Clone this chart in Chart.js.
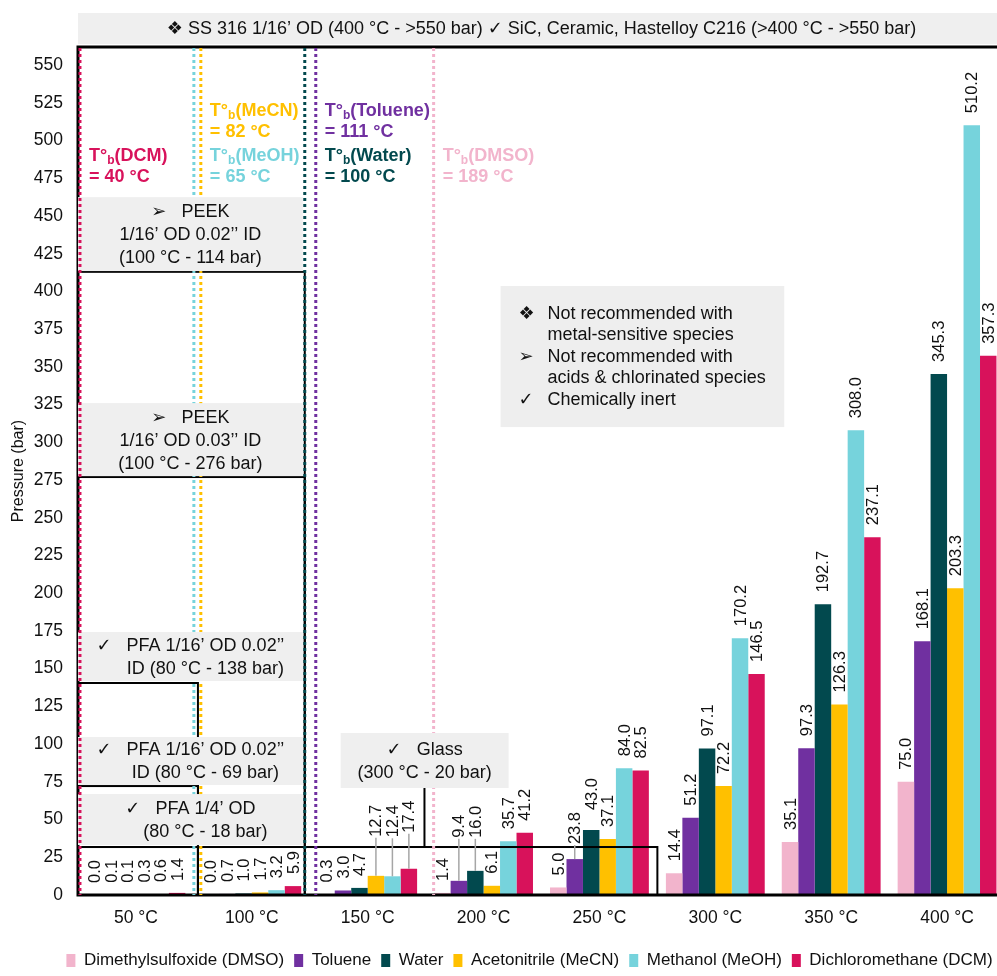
<!DOCTYPE html>
<html>
<head>
<meta charset="utf-8">
<script src="https://cdn.jsdelivr.net/npm/chart.js@4.4.1/dist/chart.umd.min.js"></script>
<style>
  html, body { margin: 0; padding: 0; background: #fff; overflow: hidden; }
  #wrap { width: 1070px; height: 976px; }
</style>
</head>
<body>
<div id="wrap"><canvas id="chart" width="1070" height="976"></canvas></div>
<script>
// Data
const temperatures = ['50 °C', '100 °C', '150 °C', '200 °C', '250 °C', '300 °C', '350 °C', '400 °C'];
const dmso    = [0.0, 0.0, 0.3, 1.4, 5.0, 14.4, 35.1, 75.0];
const toluene = [0.1, 0.7, 3.0, 9.4, 23.8, 51.2, 97.3, 168.1];
const water   = [0.1, 1.0, 4.7, 16.0, 43.0, 97.1, 192.7, 345.3];
const mecn    = [0.3, 1.7, 12.7, 6.1, 37.1, 72.2, 126.3, 203.3];
const meoh    = [0.6, 3.2, 12.4, 35.7, 84.0, 170.2, 308.0, 510.2];
const dcm     = [1.4, 5.9, 17.4, 41.2, 82.5, 146.5, 237.1, 357.3];
const seriesNames = ['Dimethylsulfoxide (DMSO)', 'Toluene', 'Water', 'Acetonitrile (MeCN)', 'Methanol (MeOH)', 'Dichloromethane (DCM)'];
const seriesValues = [dmso, toluene, water, mecn, meoh, dcm];
const seriesColors = ['#F2B4CC', '#7030A0', '#02494E', '#FFC000', '#76D3DC', '#D8125B'];
const yTicks = [0, 25, 50, 75, 100, 125, 150, 175, 200, 225, 250, 275, 300, 325, 350, 375, 400, 425, 450, 475, 500, 525, 550];

// Boiling points
const bpSolvents = ['DCM', 'MeOH', 'MeCN', 'Water', 'Toluene', 'DMSO'];
const bpTemps = [40, 65, 82, 100, 111, 189];

const FONT = "'Liberation Sans', Arial, 'DejaVu Sans', sans-serif";

// Placement of the annotations (category units on x, bar on y)
const bpLines = {
    DCM:     { u: -0.483, color: '#D8125B', onTop: true },
    MeOH:    { u: 0.50,  color: '#76D3DC' },
    MeCN:    { u: 0.56,  color: '#FFC000' },
    Water:   { u: 1.457, color: '#02494E' },
    Toluene: { u: 1.552, color: '#7030A0' },
    DMSO:    { u: 2.569, color: '#F2B4CC' }
};
const bpText = {
    DCM:     { u: -0.405, v: 489.7 },
    MeCN:    { u: 0.638,  v: 519.5 },
    MeOH:    { u: 0.638,  v: 489.7 },
    Toluene: { u: 1.629,  v: 519.5 },
    Water:   { u: 1.629,  v: 489.7 },
    DMSO:    { u: 2.647,  v: 489.7 }
};

// Limit rectangles (temperature edge, pressure top)
const limitRects = [
    { x1: 7.5, top: 562, width: 3 },
    { x1: 1.457, top: 413 },
    { x1: 1.457, top: 277 },
    { x1: 0.535, top: 140.5 },
    { x1: 0.535, top: 72.2 },
    { x1: 0.535, top: 31.8 },
    { x1: 4.5, top: 31.8 }
];

const materialBoxes = [
    { x0: -0.5, x1: 7.5, top: 584.5, bottom: 564, lines: ['❖ SS 316 1/16’ OD (400 °C - >550 bar) ✓ SiC, Ceramic, Hastelloy C216 (>400 °C - >550 bar)'] },
    { x0: -0.5, x1: 1.44, top: 462.5, bottom: 413.5, lines: ['➢   PEEK', '1/16’ OD 0.02’’ ID', '(100 °C - 114 bar)'] },
    { x0: -0.5, x1: 1.44, top: 326, bottom: 277.6, lines: ['➢   PEEK', '1/16’ OD 0.03’’ ID', '(100 °C - 276 bar)'] },
    { x0: -0.5, x1: 1.44, top: 174.3, bottom: 141.8, lines: ['✓   PFA 1/16’ OD 0.02’’', 'ID (80 °C - 138 bar)'], shift: [0, 15] },
    { x0: -0.5, x1: 1.44, top: 104.7, bottom: 72.9, lines: ['✓   PFA 1/16’ OD 0.02’’', 'ID (80 °C - 69 bar)'], shift: [0, 15] },
    { x0: -0.5, x1: 1.44, top: 66.9, bottom: 33.1, lines: ['✓   PFA 1/4’ OD', '(80 °C - 18 bar)'], shift: [0, 15] },
    { x0: 1.767, x1: 3.216, top: 107.4, bottom: 70.9, lines: ['✓   Glass', '(300 °C - 20 bar)'] }
];

const notes = [
    ['❖', 'Not recommended with'],
    ['', 'metal-sensitive species'],
    ['➢', 'Not recommended with'],
    ['', 'acids & chlorinated species'],
    ['✓', 'Chemically inert']
];

// data labels moved up by hand in the original (px lift, leader line)
const labelLift = {
    '2-3': [27, true], '2-4': [27, true], '2-5': [24, true],
    '3-1': [31, true], '3-2': [21, true],
    '4-1': [3, true], '4-2': [8, false]
};

const overlay = {
    id: 'overlay',
    afterLayout(chart) {
        // legend sits a bit right of the canvas centre and lower in the original
        chart.legend.left += 27;
        chart.legend.right += 27;
        chart.legend.top += 7;
        chart.legend.bottom += 7;
    },
    afterDatasetsDraw(chart) {
        const { ctx, scales: { x, y } } = chart;
        const step = x.getPixelForValue(1) - x.getPixelForValue(0);
        const px = u => x.getPixelForValue(0) + u * step;
        const py = v => y.getPixelForValue(v);
        const y0 = py(0);
        ctx.save();

        // black limit rectangles
        ctx.strokeStyle = '#000';
        limitRects.forEach(r => {
            ctx.lineWidth = r.width || 2;
            ctx.strokeRect(px(-0.5), py(r.top), px(r.x1) - px(-0.5), y0 - py(r.top));
        });

        // boiling point dotted lines
        const dotted = key => {
            const l = bpLines[key];
            ctx.strokeStyle = l.color;
            ctx.lineWidth = 3;
            ctx.setLineDash([3, 3]);
            ctx.beginPath();
            ctx.moveTo(px(l.u), chart.chartArea.top + 1);
            ctx.lineTo(px(l.u), y0);
            ctx.stroke();
            ctx.setLineDash([]);
        };
        bpSolvents.filter(k => !bpLines[k].onTop).forEach(dotted);

        // grey material boxes
        materialBoxes.forEach(b => {
            const left = px(b.x0), right = px(b.x1);
            const top = py(b.top), bottom = py(b.bottom);
            ctx.fillStyle = '#EFEFEF';
            ctx.fillRect(left, top, right - left, bottom - top);
            ctx.fillStyle = '#111';
            ctx.font = '18px ' + FONT;
            ctx.textAlign = 'center';
            ctx.textBaseline = 'middle';
            const lh = 23;
            const start = (top + bottom) / 2 - (b.lines.length - 1) * lh / 2 + 1;
            b.lines.forEach((t, i) => {
                const dx = b.shift ? b.shift[i] : 0;
                ctx.fillText(t, (left + right) / 2 + dx, start + i * lh);
            });
        });

        bpSolvents.filter(k => bpLines[k].onTop).forEach(dotted);

        // leader line from the glass box
        ctx.strokeStyle = '#000';
        ctx.lineWidth = 2;
        ctx.beginPath();
        ctx.moveTo(px(2.49), py(70.9));
        ctx.lineTo(px(2.49), py(31.8));
        ctx.stroke();

        // notes box
        const nl = px(3.147), nr = px(5.595), nt = py(403.6), nb = py(310.1);
        ctx.fillStyle = '#EEEEEE';
        ctx.fillRect(nl, nt, nr - nl, nb - nt);
        ctx.fillStyle = '#111';
        ctx.font = '18px ' + FONT;
        ctx.textAlign = 'left';
        ctx.textBaseline = 'middle';
        notes.forEach((n, i) => {
            const ly = nt + 28 + i * 21.5;
            if (n[0]) ctx.fillText(n[0], nl + 18, ly);
            ctx.fillText(n[1], nl + 47, ly);
        });

        // boiling point labels
        bpSolvents.forEach((key, i) => {
            const p = bpText[key];
            const lx = px(p.u), ly = py(p.v);
            ctx.fillStyle = bpLines[key].color;
            ctx.textAlign = 'left';
            ctx.textBaseline = 'middle';
            ctx.font = 'bold 18px ' + FONT;
            ctx.fillText('T°', lx, ly);
            let w = ctx.measureText('T°').width;
            ctx.font = 'bold 12px ' + FONT;
            ctx.fillText('b', lx + w, ly + 5);
            w += ctx.measureText('b').width;
            ctx.font = 'bold 18px ' + FONT;
            ctx.fillText('(' + key + ')', lx + w, ly);
            ctx.fillText('= ' + bpTemps[i] + ' °C', lx, ly + 21);
        });

        // rotated value labels
        ctx.font = '16.5px ' + FONT;
        chart.data.datasets.forEach((ds, di) => {
            const meta = chart.getDatasetMeta(di);
            meta.data.forEach((bar, i) => {
                const lift = labelLift[i + '-' + di] || [0, false];
                const base = bar.y - 12 - lift[0];
                if (lift[1]) {
                    ctx.strokeStyle = '#A6A6A6';
                    ctx.lineWidth = 1.5;
                    ctx.beginPath();
                    ctx.moveTo(bar.x, base + 1);
                    ctx.lineTo(bar.x, bar.y);
                    ctx.stroke();
                }
                ctx.save();
                ctx.translate(bar.x, base);
                ctx.rotate(-Math.PI / 2);
                ctx.fillStyle = '#111';
                ctx.textAlign = 'left';
                ctx.textBaseline = 'middle';
                ctx.fillText(ds.data[i].toFixed(1), 0, 1);
                ctx.restore();
            });
        });

        ctx.restore();
    }
};

new Chart(document.getElementById('chart'), {
    type: 'bar',
    data: {
        labels: temperatures,
        datasets: seriesNames.map((name, i) => ({
            label: name,
            data: seriesValues[i],
            backgroundColor: seriesColors[i],
            borderWidth: 0,
            categoryPercentage: 0.853,
            barPercentage: 1.0
        }))
    },
    options: {
        responsive: false,
        animation: false,
        layout: { padding: { top: 47, right: 65, bottom: 4, left: 0 } },
        plugins: {
            legend: {
                position: 'bottom',
                labels: {
                    boxWidth: 9,
                    boxHeight: 13,
                    padding: 10,
                    color: '#111',
                    font: { size: 17, family: FONT }
                }
            },
            tooltip: { enabled: false }
        },
        scales: {
            x: {
                grid: { display: true, drawOnChartArea: false, drawTicks: false },
                border: { color: '#000', width: 2 },
                ticks: { color: '#111', font: { size: 17.5, family: FONT }, padding: 13 },
                afterFit(s) { s.height = 40; }
            },
            y: {
                min: 0,
                max: 562,
                grid: { display: true, drawOnChartArea: false, drawTicks: false },
                border: { color: '#000', width: 2 },
                ticks: { color: '#111', padding: 15, font: { size: 17.5, family: FONT } },
                afterBuildTicks(s) { s.ticks = yTicks.map(v => ({ value: v })); },
                afterFit(s) { s.width = 78; },
                title: {
                    display: true,
                    text: 'Pressure (bar)',
                    color: '#111',
                    font: { size: 16, family: FONT },
                    padding: { top: 9, bottom: 0 }
                }
            }
        }
    },
    plugins: [overlay]
});
</script>
</body>
</html>
